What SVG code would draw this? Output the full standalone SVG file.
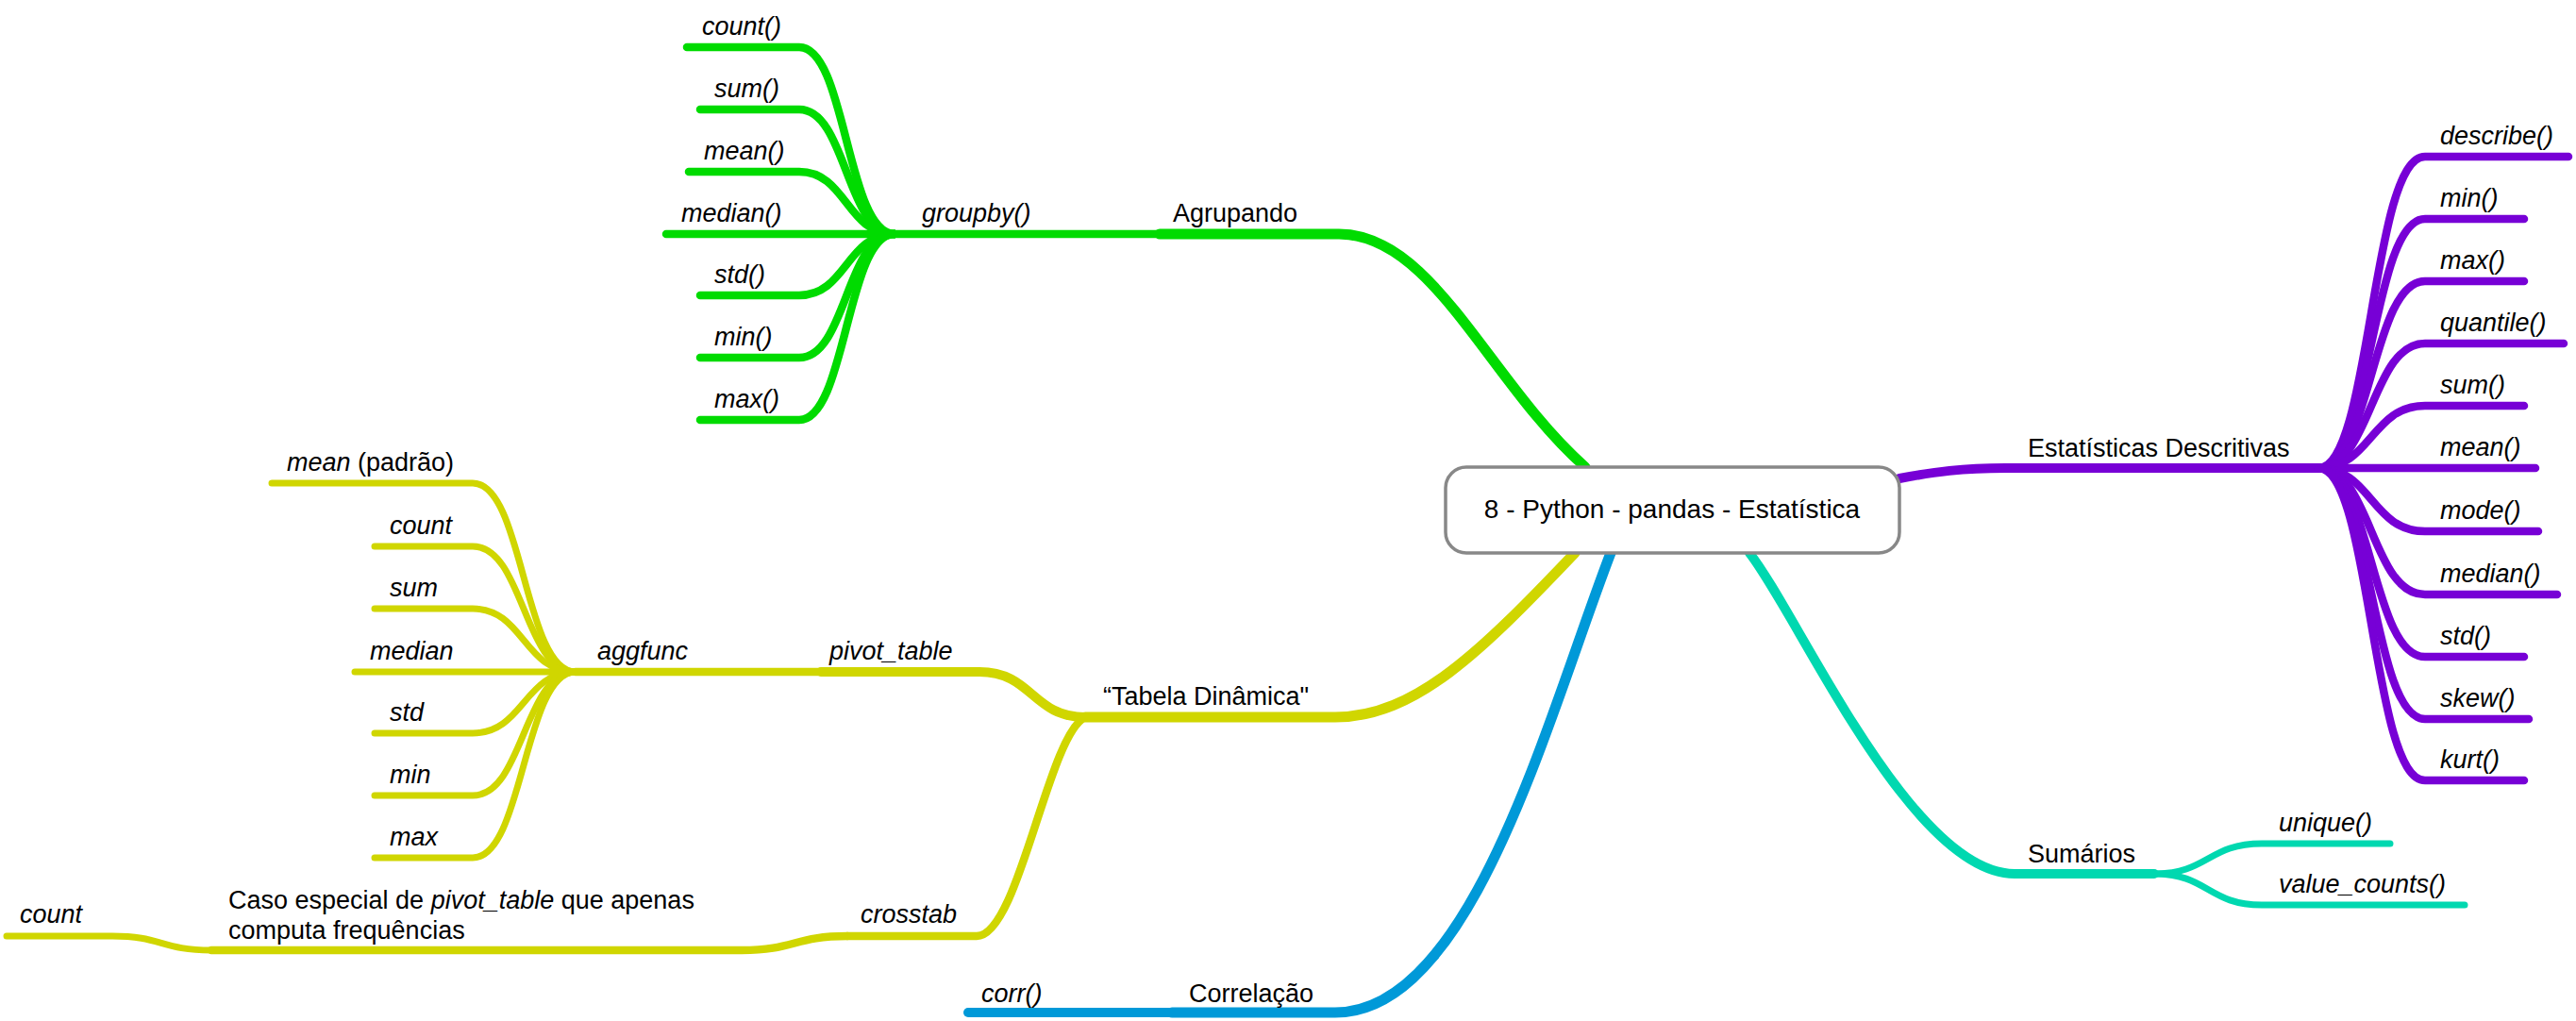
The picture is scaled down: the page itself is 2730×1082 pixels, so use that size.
<svg xmlns="http://www.w3.org/2000/svg" width="2730" height="1082" viewBox="0 0 2730 1082">
<style>
.t{font-family:"Liberation Sans",Arial,Helvetica,sans-serif;font-size:27px;fill:#000}
.i{font-style:italic}
.c{fill:none;stroke-linecap:round;stroke-linejoin:round}
.g{stroke:#00DB00}
.p{stroke:#7700D6}
.q{stroke:#00D8B0}
.y{stroke:#D0D600}
.b{stroke:#0099D8}
.w6{stroke-width:7}
.w8{stroke-width:8.5}
.w10{stroke-width:10}
.w11{stroke-width:11}
</style>
<rect width="2730" height="1082" fill="#fff"/>
<g id="connectors">
  <!-- green -->
  <path class="c g w8" d="M728 50 L847 50 C897 50 897 248 948 248"/>
  <path class="c g w8" d="M742 116 L847 116 C897 116 897 248 948 248"/>
  <path class="c g w8" d="M730 182 L847 182 C897 182 897 248 948 248"/>
  <path class="c g w8" d="M706 248 L948 248"/>
  <path class="c g w8" d="M742 313 L847 313 C897 313 897 248 948 248"/>
  <path class="c g w8" d="M742 379 L847 379 C897 379 897 248 948 248"/>
  <path class="c g w8" d="M742 445 L847 445 C897 445 897 248 948 248"/>
  <path class="c g w8" d="M948 248 L1229 248"/>
  <path class="c g w11" d="M1229 248 L1419 248 C1519 248 1578 405 1680 495"/>
  <!-- purple -->
  <path class="c p w10" d="M2013 507 C2050 500 2080 496 2125 496 L2457 496"/>
  <path class="c p w8" d="M2457 496 C2513 496 2513 166 2570 166 L2722 166"/>
  <path class="c p w8" d="M2457 496 C2513 496 2513 232 2570 232 L2675 232"/>
  <path class="c p w8" d="M2457 496 C2513 496 2513 298 2570 298 L2675 298"/>
  <path class="c p w8" d="M2457 496 C2513 496 2513 364 2570 364 L2717 364"/>
  <path class="c p w8" d="M2457 496 C2513 496 2513 430 2570 430 L2675 430"/>
  <path class="c p w8" d="M2457 496 L2687 496"/>
  <path class="c p w8" d="M2457 496 C2513 496 2513 563 2570 563 L2690 563"/>
  <path class="c p w8" d="M2457 496 C2513 496 2513 630 2570 630 L2710 630"/>
  <path class="c p w8" d="M2457 496 C2513 496 2513 696 2570 696 L2675 696"/>
  <path class="c p w8" d="M2457 496 C2513 496 2513 762 2570 762 L2680 762"/>
  <path class="c p w8" d="M2457 496 C2513 496 2513 827 2570 827 L2675 827"/>
  <!-- teal -->
  <path class="c q w10" d="M1854 586 C1905 650 2025 926 2135 926 L2283 926"/>
  <path class="c q w6" d="M2283 926 C2340 926 2340 894 2397 894 L2533 894"/>
  <path class="c q w6" d="M2283 926 C2340 926 2340 959 2397 959 L2612 959"/>
  <!-- yellow -->
  <path class="c y w6" d="M288 512 L501 512 C555 512 555 712 610 712"/>
  <path class="c y w6" d="M397 579 L501 579 C555 579 555 712 610 712"/>
  <path class="c y w6" d="M397 645 L501 645 C555 645 555 712 610 712"/>
  <path class="c y w6" d="M376 712 L610 712"/>
  <path class="c y w6" d="M397 777 L501 777 C555 777 555 712 610 712"/>
  <path class="c y w6" d="M397 843 L501 843 C555 843 555 712 610 712"/>
  <path class="c y w6" d="M397 909 L501 909 C555 909 555 712 610 712"/>
  <path class="c y w8" d="M610 712 L870 712"/>
  <path class="c y w10" d="M870 712 L1038 712 C1094 712 1094 760 1150 760"/>
  <path class="c y w11" d="M1150 760 L1415 760 C1500 760 1570 690 1669 586"/>
  <path class="c y w8" d="M1150 760 C1110 780 1080 992 1035 992 L898 992"/>
  <path class="c y w8" d="M898 992 C842 992 842 1007 786 1007 L224 1007"/>
  <path class="c y w6" d="M224 1007 C171 1007 171 992 119 992 L7 992"/>
  <!-- blue -->
  <path class="c b w11" d="M1707 586 C1640 760 1560 1073 1415 1073 L1242 1073"/>
  <path class="c b w10" d="M1242 1073 L1026 1073"/>
</g>
<g id="center">
  <rect x="1532" y="495" width="481" height="91" rx="22" fill="#fff" stroke="#888" stroke-width="3.5"/>
  <text class="t" x="1772" y="549" text-anchor="middle" style="font-size:28px">8 - Python - pandas - Estatística</text>
</g>
<g id="agrupando"><text class="t" x="1243" y="235">Agrupando</text></g>
<g id="groupby"><text class="t i" x="977" y="235">groupby()</text></g>
<g id="g-count"><text class="t i" x="744" y="37">count()</text></g>
<g id="g-sum"><text class="t i" x="757" y="103">sum()</text></g>
<g id="g-mean"><text class="t i" x="746" y="169">mean()</text></g>
<g id="g-median"><text class="t i" x="722" y="235">median()</text></g>
<g id="g-std"><text class="t i" x="757" y="300">std()</text></g>
<g id="g-min"><text class="t i" x="757" y="366">min()</text></g>
<g id="g-max"><text class="t i" x="757" y="432">max()</text></g>
<g id="estatisticas"><text class="t" x="2149" y="484">Estatísticas Descritivas</text></g>
<g id="p-describe"><text class="t i" x="2586" y="153">describe()</text></g>
<g id="p-min"><text class="t i" x="2586" y="219">min()</text></g>
<g id="p-max"><text class="t i" x="2586" y="285">max()</text></g>
<g id="p-quantile"><text class="t i" x="2586" y="351">quantile()</text></g>
<g id="p-sum"><text class="t i" x="2586" y="417">sum()</text></g>
<g id="p-mean"><text class="t i" x="2586" y="483">mean()</text></g>
<g id="p-mode"><text class="t i" x="2586" y="550">mode()</text></g>
<g id="p-median"><text class="t i" x="2586" y="617">median()</text></g>
<g id="p-std"><text class="t i" x="2586" y="683">std()</text></g>
<g id="p-skew"><text class="t i" x="2586" y="749">skew()</text></g>
<g id="p-kurt"><text class="t i" x="2586" y="814">kurt()</text></g>
<g id="sumarios"><text class="t" x="2149" y="914">Sumários</text></g>
<g id="unique"><text class="t i" x="2415" y="881">unique()</text></g>
<g id="value-counts"><text class="t i" x="2415" y="946">value_counts()</text></g>
<g id="tabela"><text class="t" x="1169" y="747">“Tabela Dinâmica"</text></g>
<g id="pivot-table"><text class="t i" x="879" y="699">pivot_table</text></g>
<g id="aggfunc"><text class="t i" x="633" y="699">aggfunc</text></g>
<g id="y-mean"><text class="t" x="304" y="499"><tspan class="i">mean</tspan> (padrão)</text></g>
<g id="y-count"><text class="t i" x="413" y="566">count</text></g>
<g id="y-sum"><text class="t i" x="413" y="632">sum</text></g>
<g id="y-median"><text class="t i" x="392" y="699">median</text></g>
<g id="y-std"><text class="t i" x="413" y="764">std</text></g>
<g id="y-min"><text class="t i" x="413" y="830">min</text></g>
<g id="y-max"><text class="t i" x="413" y="896">max</text></g>
<g id="crosstab"><text class="t i" x="912" y="978">crosstab</text></g>
<g id="caso"><text class="t" x="242" y="963">Caso especial de <tspan class="i">pivot_table</tspan> que apenas</text><text class="t" x="242" y="995">computa frequências</text></g>
<g id="y-count2"><text class="t i" x="21" y="978">count</text></g>
<g id="correlacao"><text class="t" x="1260" y="1062">Correlação</text></g>
<g id="corr"><text class="t i" x="1040" y="1062">corr()</text></g>
</svg>
